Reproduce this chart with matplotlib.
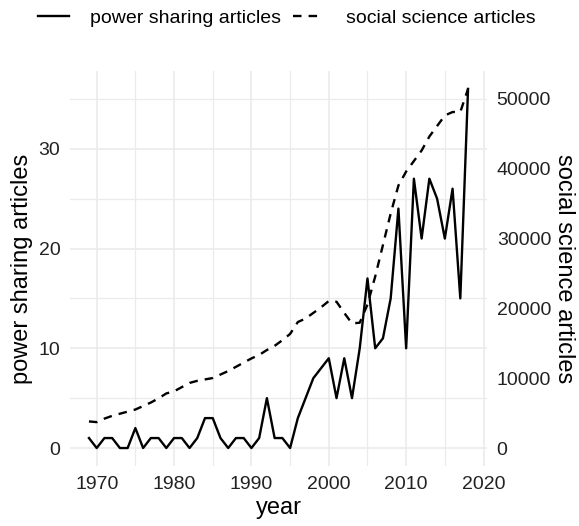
import numpy as np
import matplotlib
matplotlib.use("Agg")
import matplotlib.pyplot as plt
from matplotlib.lines import Line2D

plt.rcParams['font.family'] = ['Liberation Sans', 'DejaVu Sans']

# data
years = list(range(1969, 2019))
power_sharing = [1, 0, 1, 1, 0, 0, 2, 0, 1, 1,
                 0, 1, 1, 0, 1, 3, 3, 1, 0, 1,
                 1, 0, 1, 5, 1, 1, 0, 3, 5, 7,
                 8, 9, 5, 9, 5, 10, 17, 10, 11, 15,
                 24, 10, 27, 21, 27, 25, 21, 26, 15, 36]
social_science = [3800, 3700, 4200, 4600, 4900, 5200, 5500, 6000, 6500, 7100,
                  7800, 8100, 8700, 9300, 9600, 9800, 10000, 10500, 11000, 11600,
                  12200, 12800, 13300, 14000, 14600, 15400, 16300, 18000, 18500, 19300,
                  20100, 21000, 20900, 19300, 17800, 17900, 20500, 24500, 29000, 33500,
                  37500, 39500, 41000, 42500, 44500, 46000, 47500, 48000, 48000, 51300]

scale = max(social_science) / max(power_sharing)
dash = (0, (3.6, 3.0))

fig = plt.figure(figsize=(5.79, 5.26), dpi=100)
ax = fig.add_axes([0.1209, 0.1141, 0.7202, 0.7510])

ax.plot(years, power_sharing, color='black', lw=1.7)
ax.plot(years, np.array(social_science) / scale, color='black', lw=1.7,
        linestyle=dash)

ax.set_xlim(1966.55, 2020.45)
ax.set_ylim(-1.8, 37.8)
ax.set_xticks([1970, 1980, 1990, 2000, 2010, 2020])
ax.set_xticks([1975, 1985, 1995, 2005, 2015], minor=True)
ax.set_yticks([0, 10, 20, 30])
ax.set_yticks([5, 15, 25, 35], minor=True)
ax.grid(which='major', color='#EBEBEB', lw=1.2)
ax.grid(which='minor', color='#EBEBEB', lw=0.9)
ax.set_axisbelow(True)
for s in ax.spines.values():
    s.set_visible(False)
ax.tick_params(which='both', length=0, labelsize=14, colors='#222222', pad=7)
ax.set_xlabel('year', fontsize=17, labelpad=3)
ax.set_ylabel('power sharing articles', fontsize=17, labelpad=4)

ax2 = ax.twinx()
ax2.set_ylim(-1.8 * scale, 37.8 * scale)
ax2.set_yticks([0, 10000, 20000, 30000, 40000, 50000])
for s in ax2.spines.values():
    s.set_visible(False)
ax2.tick_params(length=0, labelsize=14, colors='#222222', pad=7)
ax2.set_ylabel('social science articles', fontsize=17, rotation=270, labelpad=17)

handles = [Line2D([], [], color='black', lw=1.7),
           Line2D([], [], color='black', lw=1.7, linestyle=dash)]
fig.legend(handles, ['power sharing articles', 'social science articles'],
           loc='center', bbox_to_anchor=(0.495, 0.966), ncol=2, frameon=False,
           fontsize=14, handlelength=1.6, handletextpad=1.1, columnspacing=0.6)

fig.savefig('out.png', dpi=100)
